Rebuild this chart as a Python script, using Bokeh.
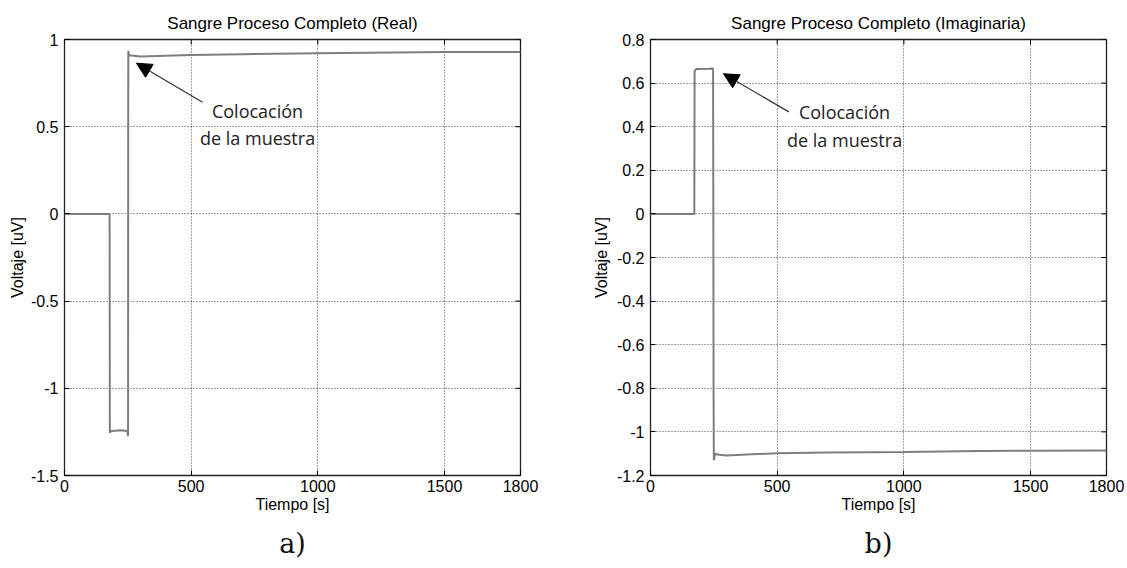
from bokeh.plotting import figure
from bokeh.models import Arrow, NormalHead, Label, Title, FixedTicker, Range1d
from bokeh.layouts import row
from bokeh.embed import file_html
from bokeh.resources import INLINE

# Real part of the blood measurement, full process
real_t = [0, 178, 178.5, 179, 185, 200, 220, 240, 249, 251, 251.5, 252, 255, 300,
          400, 500, 700, 1000, 1300, 1500, 1800]
real_v = [0, 0, -0.62, -1.253, -1.245, -1.243, -1.241, -1.243, -1.25, -1.274, 0.65,
          0.934, 0.91, 0.903, 0.907, 0.911, 0.916, 0.921, 0.925, 0.928, 0.928]

# Imaginary part of the blood measurement, full process
imag_t = [0, 173, 173.5, 174, 178, 180, 200, 230, 247, 248, 249, 250, 255, 270, 300,
          400, 500, 700, 1000, 1300, 1500, 1800]
imag_v = [0, 0, 0.33, 0.655, 0.66, 0.665, 0.665, 0.666, 0.667, 0.04, -0.84, -1.13,
          -1.10, -1.105, -1.108, -1.103, -1.098, -1.094, -1.092, -1.088, -1.086, -1.085]

x_ticks = [0, 500, 1000, 1500, 1800]
real_yticks = [-1.5, -1, -0.5, 0, 0.5, 1]
real_ylabels = ["-1.5", "-1", "-0.5", "0", "0.5", "1"]
imag_yticks = [-1.2, -1, -0.8, -0.6, -0.4, -0.2, 0, 0.2, 0.4, 0.6, 0.8]
imag_ylabels = ["-1.2", "-1", "-0.8", "-0.6", "-0.4", "-0.2", "0", "0.2", "0.4", "0.6", "0.8"]

AXIS_FONT = "Liberation Sans"
NOTE_FONT = "Open Sans"
FRAME_W, FRAME_H = 456, 438
TICK_PX = 5


def panel(title, t, v, yticks, ylabels, width, left, right, label_standoff,
          arrow, note_x, note_y, tag):
    y0, y1 = yticks[0], yticks[-1]
    p = figure(width=width, height=568, title=title,
               x_range=Range1d(0, 1800), y_range=Range1d(y0, y1),
               output_backend="svg", toolbar_location=None,
               min_border_left=left, min_border_right=right,
               min_border_top=39, min_border_bottom=91)
    p.background_fill_color = "white"
    p.border_fill_color = "white"
    p.outline_line_color = "#222222"
    p.outline_line_width = 1.3

    p.title.align = "center"
    p.title.text_font = AXIS_FONT
    p.title.text_font_size = "17px"
    p.title.text_font_style = "normal"
    p.title.text_color = "black"
    p.title.standoff = 14

    p.xaxis.ticker = FixedTicker(ticks=x_ticks)
    p.yaxis.ticker = FixedTicker(ticks=yticks)
    p.yaxis.major_label_overrides = dict(zip(yticks, ylabels))
    for ax in (p.xaxis[0], p.yaxis[0]):
        ax.axis_line_color = None
        ax.major_tick_in = TICK_PX
        ax.major_tick_out = 0
        ax.major_tick_line_color = "black"
        ax.minor_tick_line_color = None
        ax.major_label_text_font = AXIS_FONT
        ax.major_label_text_font_size = "16px"
        ax.major_label_text_color = "black"
        ax.axis_label_text_font = AXIS_FONT
        ax.axis_label_text_font_size = "16px"
        ax.axis_label_text_font_style = "normal"
        ax.axis_label_text_color = "black"
    p.xaxis.axis_label = "Tiempo [s]"
    p.xaxis.major_label_standoff = 4
    p.xaxis.axis_label_standoff = 1
    p.yaxis.axis_label = "Voltaje [uV]"
    p.yaxis.major_label_standoff = 6
    p.yaxis.axis_label_standoff = label_standoff

    for g in (p.xgrid[0], p.ygrid[0]):
        g.grid_line_color = "black"
        g.grid_line_alpha = 0.75
        g.grid_line_dash = "1 2"
        g.grid_line_width = 1

    # inward ticks on the top and right edges of the box
    dx = TICK_PX * 1800 / FRAME_W
    dy = TICK_PX * (y1 - y0) / FRAME_H
    p.segment(x0=x_ticks, x1=x_ticks, y0=[y1] * len(x_ticks), y1=[y1 - dy] * len(x_ticks),
              line_color="black", line_width=1)
    p.segment(x0=[1800] * len(yticks), x1=[1800 - dx] * len(yticks), y0=yticks, y1=yticks,
              line_color="black", line_width=1)

    p.line(t, v, line_color="#7d7d7d", line_width=2)

    (xs, ys), (xe, ye) = arrow
    p.add_layout(Arrow(end=NormalHead(size=15, fill_color="black", line_color="black",
                                      line_width=1),
                       x_start=xs, y_start=ys, x_end=xe, y_end=ye,
                       line_color="#333333", line_width=1.2))
    for text, yy in zip(["Colocación", "de la muestra"], note_y):
        p.add_layout(Label(x=note_x, y=yy, text=text, text_align="center",
                           text_baseline="middle", text_font=NOTE_FONT,
                           text_font_size="18px", text_color="#222222"))
    p.add_layout(Title(text=tag, align="center", text_font="DejaVu Serif",
                       text_font_size="27px", text_font_style="normal",
                       text_color="#111111", standoff=20), "below")
    return p


p1 = panel("Sangre Proceso Completo (Real)", real_t, real_v, real_yticks, real_ylabels,
           563, 64, 43, 2, ((545, 0.64), (284, 0.864)), 762, (0.588, 0.434), "a)")
p2 = panel("Sangre Proceso Completo (Imaginaria)", imag_t, imag_v, imag_yticks, imag_ylabels,
           564, 87, 21, 4, ((546, 0.468), (288, 0.643)), 766, (0.467, 0.341), "b)")

layout = row(p1, p2, spacing=0)
open("out.html", "w").write(file_html(layout, INLINE))
